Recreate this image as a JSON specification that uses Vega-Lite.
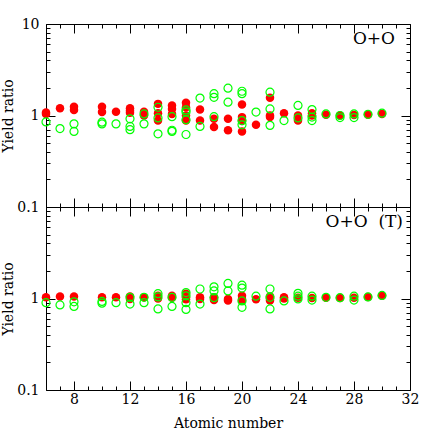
{
  "$schema": "https://vega.github.io/schema/vega-lite/v6.json",
  "padding": {"left": 1, "top": 17, "right": 6, "bottom": 2},
  "spacing": 0,
  "bounds": "flush",
  "config": {
    "view": {"stroke": null},
    "axis": {
      "grid": false,
      "domainColor": "#000000",
      "tickColor": "#000000",
      "labelColor": "#000000",
      "titleColor": "#000000",
      "labelFont": "DejaVu Serif",
      "titleFont": "DejaVu Serif",
      "labelFontSize": 14,
      "titleFontSize": 14,
      "titleFontWeight": "normal",
      "labelFlush": false,
      "labelOverlap": false
    }
  },
  "datasets": {
    "pts": [
      {"p":"top","s":"red","z":6,"r":1.08},{"p":"top","s":"red","z":6,"r":1.04},
      {"p":"top","s":"red","z":7,"r":1.2},
      {"p":"top","s":"red","z":8,"r":1.25},{"p":"top","s":"red","z":8,"r":1.15},
      {"p":"top","s":"red","z":10,"r":1.25},{"p":"top","s":"red","z":10,"r":1.09},
      {"p":"top","s":"red","z":11,"r":1.1},
      {"p":"top","s":"red","z":12,"r":1.2},{"p":"top","s":"red","z":12,"r":1.13},{"p":"top","s":"red","z":12,"r":1.07},
      {"p":"top","s":"red","z":13,"r":1.1},{"p":"top","s":"red","z":13,"r":1.0},
      {"p":"top","s":"red","z":14,"r":1.34},{"p":"top","s":"red","z":14,"r":1.06},{"p":"top","s":"red","z":14,"r":0.88},
      {"p":"top","s":"red","z":15,"r":1.29},{"p":"top","s":"red","z":15,"r":1.18},{"p":"top","s":"red","z":15,"r":1.04},
      {"p":"top","s":"red","z":16,"r":1.38},{"p":"top","s":"red","z":16,"r":1.23},{"p":"top","s":"red","z":16,"r":1.0},{"p":"top","s":"red","z":16,"r":0.88},
      {"p":"top","s":"red","z":17,"r":1.16},{"p":"top","s":"red","z":17,"r":0.88},
      {"p":"top","s":"red","z":18,"r":0.92},{"p":"top","s":"red","z":18,"r":0.75},
      {"p":"top","s":"red","z":19,"r":0.92},{"p":"top","s":"red","z":19,"r":0.69},
      {"p":"top","s":"red","z":20,"r":1.32},{"p":"top","s":"red","z":20,"r":0.96},{"p":"top","s":"red","z":20,"r":0.87},{"p":"top","s":"red","z":20,"r":0.67},
      {"p":"top","s":"red","z":21,"r":0.79},
      {"p":"top","s":"red","z":22,"r":1.56},{"p":"top","s":"red","z":22,"r":1.0},{"p":"top","s":"red","z":22,"r":0.96},
      {"p":"top","s":"red","z":23,"r":1.06},
      {"p":"top","s":"red","z":24,"r":1.0},{"p":"top","s":"red","z":24,"r":0.88},
      {"p":"top","s":"red","z":25,"r":1.06},{"p":"top","s":"red","z":25,"r":1.0},
      {"p":"top","s":"red","z":26,"r":1.02},
      {"p":"top","s":"red","z":27,"r":1.0},
      {"p":"top","s":"red","z":28,"r":1.01},
      {"p":"top","s":"red","z":29,"r":1.02},
      {"p":"top","s":"red","z":30,"r":1.04},
      {"p":"top","s":"green","z":6,"r":0.85},
      {"p":"top","s":"green","z":7,"r":0.72},
      {"p":"top","s":"green","z":8,"r":0.81},{"p":"top","s":"green","z":8,"r":0.67},
      {"p":"top","s":"green","z":10,"r":0.845},{"p":"top","s":"green","z":10,"r":0.81},
      {"p":"top","s":"green","z":11,"r":0.81},
      {"p":"top","s":"green","z":12,"r":0.92},{"p":"top","s":"green","z":12,"r":0.76},{"p":"top","s":"green","z":12,"r":0.70},
      {"p":"top","s":"green","z":13,"r":1.04},{"p":"top","s":"green","z":13,"r":0.81},
      {"p":"top","s":"green","z":14,"r":1.23},{"p":"top","s":"green","z":14,"r":0.94},{"p":"top","s":"green","z":14,"r":0.63},
      {"p":"top","s":"green","z":15,"r":0.97},{"p":"top","s":"green","z":15,"r":0.69},{"p":"top","s":"green","z":15,"r":0.67},
      {"p":"top","s":"green","z":16,"r":1.15},{"p":"top","s":"green","z":16,"r":1.09},{"p":"top","s":"green","z":16,"r":0.90},{"p":"top","s":"green","z":16,"r":0.62},
      {"p":"top","s":"green","z":17,"r":1.55},{"p":"top","s":"green","z":17,"r":0.76},
      {"p":"top","s":"green","z":18,"r":1.73},{"p":"top","s":"green","z":18,"r":1.58},{"p":"top","s":"green","z":18,"r":0.97},
      {"p":"top","s":"green","z":19,"r":1.99},{"p":"top","s":"green","z":19,"r":1.40},
      {"p":"top","s":"green","z":20,"r":1.84},{"p":"top","s":"green","z":20,"r":1.73},{"p":"top","s":"green","z":20,"r":0.88},{"p":"top","s":"green","z":20,"r":0.79},
      {"p":"top","s":"green","z":21,"r":1.09},
      {"p":"top","s":"green","z":22,"r":1.8},{"p":"top","s":"green","z":22,"r":1.18},{"p":"top","s":"green","z":22,"r":0.78},
      {"p":"top","s":"green","z":23,"r":0.88},
      {"p":"top","s":"green","z":24,"r":1.29},{"p":"top","s":"green","z":24,"r":0.94},
      {"p":"top","s":"green","z":25,"r":1.16},{"p":"top","s":"green","z":25,"r":0.96},{"p":"top","s":"green","z":25,"r":0.88},
      {"p":"top","s":"green","z":26,"r":1.04},
      {"p":"top","s":"green","z":27,"r":1.0},{"p":"top","s":"green","z":27,"r":0.95},
      {"p":"top","s":"green","z":28,"r":1.04},{"p":"top","s":"green","z":28,"r":0.95},
      {"p":"top","s":"green","z":29,"r":1.03},
      {"p":"top","s":"green","z":30,"r":1.06},
      {"p":"bot","s":"red","z":6,"r":1.03},
      {"p":"bot","s":"red","z":7,"r":1.05},
      {"p":"bot","s":"red","z":8,"r":1.05},
      {"p":"bot","s":"red","z":10,"r":1.03},
      {"p":"bot","s":"red","z":11,"r":1.03},
      {"p":"bot","s":"red","z":12,"r":1.05},{"p":"bot","s":"red","z":12,"r":0.99},
      {"p":"bot","s":"red","z":13,"r":1.03},
      {"p":"bot","s":"red","z":14,"r":1.07},{"p":"bot","s":"red","z":14,"r":1.0},
      {"p":"bot","s":"red","z":15,"r":1.07},{"p":"bot","s":"red","z":15,"r":1.02},
      {"p":"bot","s":"red","z":16,"r":1.13},{"p":"bot","s":"red","z":16,"r":1.03},{"p":"bot","s":"red","z":16,"r":0.98},
      {"p":"bot","s":"red","z":17,"r":1.03},{"p":"bot","s":"red","z":17,"r":0.99},
      {"p":"bot","s":"red","z":18,"r":1.03},{"p":"bot","s":"red","z":18,"r":0.96},
      {"p":"bot","s":"red","z":19,"r":0.99},{"p":"bot","s":"red","z":19,"r":0.95},
      {"p":"bot","s":"red","z":20,"r":1.07},{"p":"bot","s":"red","z":20,"r":0.99},{"p":"bot","s":"red","z":20,"r":0.95},
      {"p":"bot","s":"red","z":21,"r":0.98},
      {"p":"bot","s":"red","z":22,"r":1.05},{"p":"bot","s":"red","z":22,"r":1.0},{"p":"bot","s":"red","z":22,"r":0.95},
      {"p":"bot","s":"red","z":23,"r":1.03},{"p":"bot","s":"red","z":23,"r":1.0},
      {"p":"bot","s":"red","z":24,"r":1.02},
      {"p":"bot","s":"red","z":25,"r":1.01},
      {"p":"bot","s":"red","z":26,"r":1.02},
      {"p":"bot","s":"red","z":27,"r":1.01},
      {"p":"bot","s":"red","z":28,"r":1.02},
      {"p":"bot","s":"red","z":29,"r":1.04},
      {"p":"bot","s":"red","z":30,"r":1.07},
      {"p":"bot","s":"green","z":6,"r":0.90},
      {"p":"bot","s":"green","z":7,"r":0.85},
      {"p":"bot","s":"green","z":8,"r":0.92},{"p":"bot","s":"green","z":8,"r":0.82},
      {"p":"bot","s":"green","z":10,"r":0.93},{"p":"bot","s":"green","z":10,"r":0.89},
      {"p":"bot","s":"green","z":11,"r":0.90},
      {"p":"bot","s":"green","z":12,"r":1.03},{"p":"bot","s":"green","z":12,"r":0.87},
      {"p":"bot","s":"green","z":13,"r":1.03},{"p":"bot","s":"green","z":13,"r":0.90},
      {"p":"bot","s":"green","z":14,"r":1.13},{"p":"bot","s":"green","z":14,"r":1.04},{"p":"bot","s":"green","z":14,"r":0.77},
      {"p":"bot","s":"green","z":15,"r":1.03},{"p":"bot","s":"green","z":15,"r":0.82},
      {"p":"bot","s":"green","z":16,"r":1.16},{"p":"bot","s":"green","z":16,"r":1.07},{"p":"bot","s":"green","z":16,"r":0.90},{"p":"bot","s":"green","z":16,"r":0.76},
      {"p":"bot","s":"green","z":17,"r":1.27},{"p":"bot","s":"green","z":17,"r":0.87},
      {"p":"bot","s":"green","z":18,"r":1.34},{"p":"bot","s":"green","z":18,"r":1.21},{"p":"bot","s":"green","z":18,"r":1.02},
      {"p":"bot","s":"green","z":19,"r":1.46},{"p":"bot","s":"green","z":19,"r":1.21},
      {"p":"bot","s":"green","z":20,"r":1.40},{"p":"bot","s":"green","z":20,"r":1.30},{"p":"bot","s":"green","z":20,"r":0.94},{"p":"bot","s":"green","z":20,"r":0.80},
      {"p":"bot","s":"green","z":21,"r":1.06},
      {"p":"bot","s":"green","z":22,"r":1.27},{"p":"bot","s":"green","z":22,"r":1.03},{"p":"bot","s":"green","z":22,"r":0.77},
      {"p":"bot","s":"green","z":23,"r":0.94},
      {"p":"bot","s":"green","z":24,"r":1.14},{"p":"bot","s":"green","z":24,"r":1.06},{"p":"bot","s":"green","z":24,"r":0.99},
      {"p":"bot","s":"green","z":25,"r":1.06},{"p":"bot","s":"green","z":25,"r":0.96},
      {"p":"bot","s":"green","z":26,"r":1.03},
      {"p":"bot","s":"green","z":27,"r":1.02},
      {"p":"bot","s":"green","z":28,"r":1.06},{"p":"bot","s":"green","z":28,"r":0.96},
      {"p":"bot","s":"green","z":29,"r":1.04},
      {"p":"bot","s":"green","z":30,"r":1.08}
    ],
    "lbl": [{"top": "O+O", "bot": "O+O\u00a0\u00a0(T)"}]
  },
  "vconcat": [
    {
      "width": 364,
      "height": 183,
      "layer": [
        {
          "data": {"name": "pts"},
          "transform": [{"filter": "datum.p === 'top' && datum.s === 'red'"}],
          "mark": {"type": "point", "filled": true, "color": "#ff0000", "opacity": 1, "size": 72},
          "encoding": {
            "x": {"field": "z", "type": "quantitative",
              "scale": {"domain": [6, 32], "nice": false, "zero": false},
              "axis": {"orient": "bottom", "labels": false, "title": null,
                "values": [6,7,8,9,10,11,12,13,14,15,16,17,18,19,20,21,22,23,24,25,26,27,28,29,30,31,32],
                "tickSize": {"condition": {"test": "datum.value % 4 === 0", "value": -9}, "value": -4}}},
            "y": {"field": "r", "type": "quantitative",
              "scale": {"type": "log", "domain": [0.1, 10], "nice": false},
              "axis": {"orient": "left", "title": "Yield ratio", "titlePadding": 1, "labelPadding": 16,
                "values": [0.1,0.2,0.3,0.4,0.5,0.6,0.7,0.8,0.9,1,2,3,4,5,6,7,8,9,10],
                "labelExpr": "datum.value === 0.1 ? '0.1' : datum.value === 1 ? '1' : datum.value === 10 ? '10' : ''",
                "tickSize": {"condition": {"test": "datum.value === 0.1 || datum.value === 1 || datum.value === 10", "value": -9}, "value": -4}}}
          }
        },
        {
          "data": {"name": "pts"},
          "transform": [{"filter": "datum.p === 'top' && datum.s === 'green'"}],
          "mark": {"type": "point", "filled": false, "color": "#00ff00", "strokeWidth": 1.2, "opacity": 1, "size": 64},
          "encoding": {
            "x": {"field": "z", "type": "quantitative",
              "axis": {"orient": "top", "labels": false, "title": null,
                "values": [6,7,8,9,10,11,12,13,14,15,16,17,18,19,20,21,22,23,24,25,26,27,28,29,30,31,32],
                "tickSize": {"condition": {"test": "datum.value % 4 === 0", "value": -9}, "value": -4}}},
            "y": {"field": "r", "type": "quantitative",
              "axis": {"orient": "right", "labels": false, "title": null,
                "values": [0.1,0.2,0.3,0.4,0.5,0.6,0.7,0.8,0.9,1,2,3,4,5,6,7,8,9,10],
                "tickSize": {"condition": {"test": "datum.value === 0.1 || datum.value === 1 || datum.value === 10", "value": -9}, "value": -4}}}
          }
        },
        {
          "data": {"name": "lbl"},
          "mark": {"type": "text", "align": "right", "baseline": "alphabetic", "font": "DejaVu Serif", "fontWeight": "normal", "fontSize": 17, "color": "#000000"},
          "encoding": {
            "text": {"field": "top"},
            "x": {"datum": 30.93, "type": "quantitative", "axis": null},
            "y": {"datum": 6.0, "type": "quantitative", "axis": null}
          }
        }
      ],
      "resolve": {"axis": {"x": "independent", "y": "independent"}}
    },
    {
      "width": 364,
      "height": 183,
      "layer": [
        {
          "data": {"name": "pts"},
          "transform": [{"filter": "datum.p === 'bot' && datum.s === 'red'"}],
          "mark": {"type": "point", "filled": true, "color": "#ff0000", "opacity": 1, "size": 72},
          "encoding": {
            "x": {"field": "z", "type": "quantitative",
              "scale": {"domain": [6, 32], "nice": false, "zero": false},
              "axis": {"orient": "bottom", "title": "Atomic number", "labelPadding": 11, "titlePadding": 5,
                "values": [6,7,8,9,10,11,12,13,14,15,16,17,18,19,20,21,22,23,24,25,26,27,28,29,30,31,32],
                "labelExpr": "datum.value % 4 === 0 ? datum.label : ''",
                "tickSize": {"condition": {"test": "datum.value % 4 === 0", "value": -9}, "value": -4}}},
            "y": {"field": "r", "type": "quantitative",
              "scale": {"type": "log", "domain": [0.1, 10], "nice": false},
              "axis": {"orient": "left", "title": "Yield ratio", "titlePadding": 1, "labelPadding": 16,
                "values": [0.1,0.2,0.3,0.4,0.5,0.6,0.7,0.8,0.9,1,2,3,4,5,6,7,8,9,10],
                "labelExpr": "datum.value === 0.1 ? '0.1' : datum.value === 1 ? '1' : ''",
                "tickSize": {"condition": {"test": "datum.value === 0.1 || datum.value === 1 || datum.value === 10", "value": -9}, "value": -4}}}
          }
        },
        {
          "data": {"name": "pts"},
          "transform": [{"filter": "datum.p === 'bot' && datum.s === 'green'"}],
          "mark": {"type": "point", "filled": false, "color": "#00ff00", "strokeWidth": 1.2, "opacity": 1, "size": 64},
          "encoding": {
            "x": {"field": "z", "type": "quantitative",
              "axis": {"orient": "top", "labels": false, "title": null,
                "values": [6,7,8,9,10,11,12,13,14,15,16,17,18,19,20,21,22,23,24,25,26,27,28,29,30,31,32],
                "tickSize": {"condition": {"test": "datum.value % 4 === 0", "value": -9}, "value": -4}}},
            "y": {"field": "r", "type": "quantitative",
              "axis": {"orient": "right", "labels": false, "title": null,
                "values": [0.1,0.2,0.3,0.4,0.5,0.6,0.7,0.8,0.9,1,2,3,4,5,6,7,8,9,10],
                "tickSize": {"condition": {"test": "datum.value === 0.1 || datum.value === 1 || datum.value === 10", "value": -9}, "value": -4}}}
          }
        },
        {
          "data": {"name": "lbl"},
          "mark": {"type": "text", "align": "right", "baseline": "alphabetic", "font": "DejaVu Serif", "fontWeight": "normal", "fontSize": 17, "color": "#000000"},
          "encoding": {
            "text": {"field": "bot"},
            "x": {"datum": 31.5, "type": "quantitative", "axis": null},
            "y": {"datum": 6.1, "type": "quantitative", "axis": null}
          }
        }
      ],
      "resolve": {"axis": {"x": "independent", "y": "independent"}}
    }
  ]
}
